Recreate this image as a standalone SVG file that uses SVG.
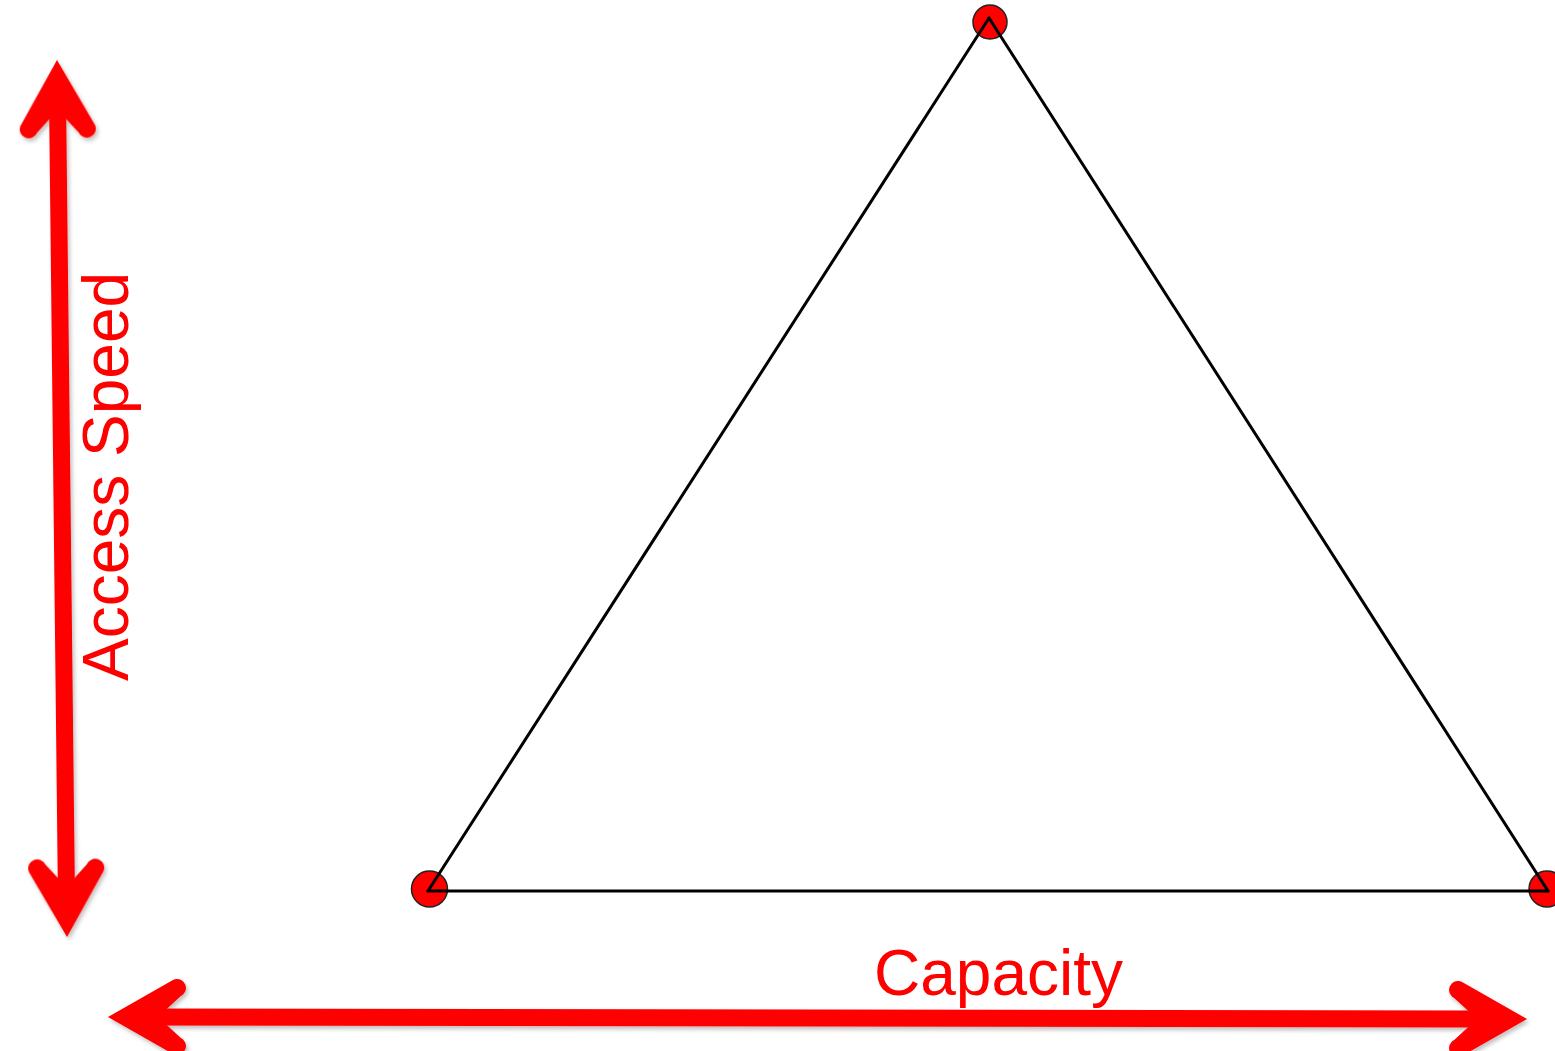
<svg xmlns="http://www.w3.org/2000/svg" width="1555" height="1051" viewBox="0 0 1555 1051">
<style>
.lbl{font-family:"Liberation Sans",Arial,sans-serif;font-size:64px;fill:#ff0000}
.dot{fill:#ff0000;stroke:#222;stroke-width:1.5}
.edge{stroke:#000;stroke-width:3;fill:none;stroke-linecap:round}
.shaft{stroke:#ff0000;stroke-width:17;fill:none}
.head{fill:#ff0000}
</style>
<defs>
<filter id="sh" x="-10%" y="-10%" width="120%" height="130%">
<feDropShadow dx="2" dy="3" stdDeviation="2" flood-color="#000" flood-opacity="0.25"/>
</filter>
<path id="ah" class="head" d="M0,0 L-37.3,65.5 A9,9 0 0 0 -20.7,72.5 L0,50 L20.7,72.5 A9,9 0 0 0 37.3,65.5 Z"/>
</defs>
<rect width="1555" height="1051" fill="#fff"/>
<g id="axes" filter="url(#sh)">
<g id="axis-speed">
<line class="shaft" x1="57.6" y1="105" x2="66.4" y2="892"/>
<use href="#ah" transform="translate(57,60) rotate(-0.66)"/>
<use href="#ah" transform="translate(67,937) rotate(179.34)"/>
</g>
<g id="axis-capacity">
<line class="shaft" x1="150" y1="1017" x2="1485" y2="1019"/>
<use href="#ah" transform="translate(108,1017) rotate(-90)"/>
<use href="#ah" transform="translate(1527,1019) rotate(90)"/>
</g>
</g>
<g id="labels">
<text class="lbl" transform="translate(128,681) rotate(-90)">Access Speed</text>
<text class="lbl" x="874" y="995">Capacity</text>
</g>
<g id="nodes">
<g id="node-top"><circle class="dot" cx="990" cy="22" r="17"/></g>
<g id="node-left"><circle class="dot" cx="429.5" cy="889" r="18"/></g>
<g id="node-right"><circle class="dot" cx="1547" cy="889" r="18"/></g>
</g>
<g id="connectors">
<line class="edge" x1="989" y1="18" x2="428" y2="891"/>
<line class="edge" x1="989" y1="18" x2="1548" y2="891"/>
<line class="edge" x1="428" y1="891" x2="1548" y2="891"/>
</g>
</svg>
